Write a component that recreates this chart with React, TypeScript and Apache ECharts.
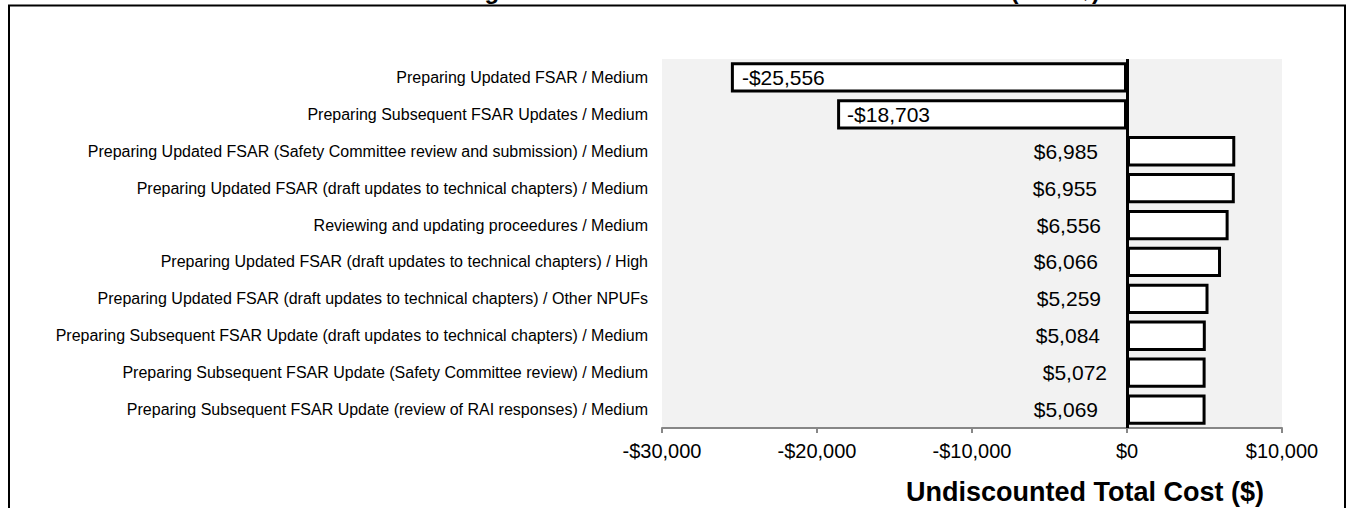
import React, { useEffect, useRef } from 'react';
import * as echarts from 'echarts';

const categories = [
  'Preparing Updated FSAR / Medium',
  'Preparing Subsequent FSAR Updates / Medium',
  'Preparing Updated FSAR (Safety Committee review and submission) / Medium',
  'Preparing Updated FSAR (draft updates to technical chapters) / Medium',
  'Reviewing and updating proceedures / Medium',
  'Preparing Updated FSAR (draft updates to technical chapters) / High',
  'Preparing Updated FSAR (draft updates to technical chapters) / Other NPUFs',
  'Preparing Subsequent FSAR Update (draft updates to technical chapters) / Medium',
  'Preparing Subsequent FSAR Update (Safety Committee review) / Medium',
  'Preparing Subsequent FSAR Update (review of RAI responses) / Medium',
];
const values = [-25556, -18703, 6985, 6955, 6556, 6066, 5259, 5084, 5072, 5069];
const labelDistances = [11, 10, 29, 30, 26, 29, 26, 27, 20, 29];
const xMin = -30000;
const xMax = 10000;
const xInterval = 10000;
const titleText = 'Ten Largest Contributors to Undiscounted Total Cost (2020 $)';
const axisNameText = 'Undiscounted Total Cost ($)';

const FONT = '"Liberation Sans", Arial, sans-serif';

const fmt = (v: number) =>
  (v < 0 ? '-$' : '$') + Math.abs(Math.round(v)).toLocaleString('en-US');

export default function App() {
  const ref = useRef<HTMLDivElement>(null);
  useEffect(() => {
    if (!ref.current) return;
    const chart = echarts.init(ref.current, undefined, { renderer: 'svg' });
    chart.setOption({
      animation: false,
      backgroundColor: '#ffffff',
      grid: {
        left: 662,
        right: 67,
        top: 59,
        bottom: 80,
        show: true,
        backgroundColor: '#f2f2f2',
        borderWidth: 0,
      },
      xAxis: {
        type: 'value',
        min: xMin,
        max: xMax,
        interval: xInterval,
        position: 'bottom',
        splitLine: { show: false },
        axisLine: { show: true, onZero: false, lineStyle: { color: '#878787', width: 2 } },
        axisTick: { show: true, length: 5, lineStyle: { color: '#878787', width: 2 } },
        axisLabel: {
          formatter: (v: number) => fmt(v),
          fontFamily: FONT,
          fontSize: 20,
          color: '#000',
          margin: 13,
        },
      },
      yAxis: {
        type: 'category',
        data: categories,
        inverse: true,
        axisLine: { show: false },
        axisTick: { show: false },
        splitLine: { show: false },
        axisLabel: {
          fontFamily: FONT,
          fontSize: 16,
          color: '#000',
          margin: 14,
        },
      },
      series: [
        {
          type: 'bar',
          barCategoryGap: '18%',
          itemStyle: { color: '#ffffff', borderColor: '#000000', borderWidth: 3 },
          label: {
            show: true,
            fontFamily: FONT,
            fontSize: 21,
            color: '#000',
            formatter: (p: any) => fmt(p.value),
          },
          data: values.map((v, i) => ({
            value: v,
            label: {
              position: v < 0 ? 'insideLeft' : 'left',
              distance: labelDistances[i],
            },
          })),
          markLine: {
            silent: true,
            symbol: ['none', 'none'],
            label: { show: false },
            lineStyle: { color: '#000000', width: 3, type: 'solid' },
            data: [{ xAxis: 0 }],
          },
        },
      ],
      graphic: [
        {
          type: 'rect',
          shape: { x: 9, y: 5.5, width: 1336, height: 520 },
          style: { fill: 'none', stroke: '#000', lineWidth: 2 },
          z: 10,
        },
        {
          type: 'text',
          x: 1100,
          y: -10,
          style: {
            text: titleText,
            fontFamily: FONT,
            fontSize: 24,
            fontWeight: 'bold',
            fill: '#000',
            align: 'right',
            verticalAlign: 'middle',
          },
          z: 10,
        },
        {
          type: 'text',
          x: 1085,
          y: 492,
          style: {
            text: axisNameText,
            fontFamily: FONT,
            fontSize: 27,
            fontWeight: 'bold',
            fill: '#000',
            align: 'center',
            verticalAlign: 'middle',
          },
          z: 10,
        },
      ],
    });
    return () => chart.dispose();
  }, []);
  return (
    <div
      ref={ref}
      style={{ position: 'absolute', left: 0, top: 0, width: 1349, height: 508 }}
    />
  );
}
